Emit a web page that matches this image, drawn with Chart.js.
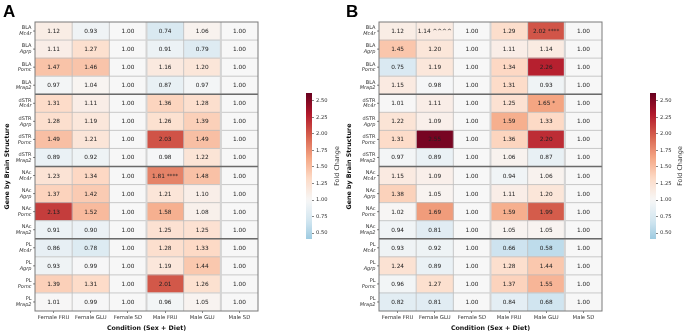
<!DOCTYPE html>
<html>
<head>
<meta charset="utf-8">
<script src="https://cdn.jsdelivr.net/npm/chart.js@4.4.1/dist/chart.umd.min.js"></script>
<style>
  html, body { margin: 0; padding: 0; background: #fff; }
  #wrap { position: relative; width: 685px; height: 333px; }
  canvas { position: absolute; }
</style>
</head>
<body>
<div id="wrap">
  <canvas id="heatA" width="300" height="333" style="left:0;top:0"></canvas>
  <canvas id="barA" width="42" height="160" style="left:300px;top:85px"></canvas>
  <canvas id="heatB" width="300" height="333" style="left:342px;top:0"></canvas>
  <canvas id="barB" width="43" height="160" style="left:642px;top:85px"></canvas>
</div>
<script>
const conditions = ['Female FRU', 'Female GLU', 'Female SD', 'Male FRU', 'Male GLU', 'Male SD'];
const regions = ['BLA', 'dSTR', 'NAc', 'PL'];
const genes = ['Mc4r', 'Agrp', 'Pomc', 'Mrap2'];

// panel A - one array per condition, rows go region by region, gene by gene
const aFemaleFRU = [1.12, 1.11, 1.47, 0.97, 1.31, 1.28, 1.49, 0.89, 1.23, 1.37, 2.13, 0.91, 0.86, 0.93, 1.39, 1.01];
const aFemaleGLU = [0.93, 1.27, 1.46, 1.04, 1.11, 1.19, 1.21, 0.92, 1.34, 1.42, 1.52, 0.90, 0.78, 0.99, 1.31, 0.99];
const aFemaleSD = [1.00, 1.00, 1.00, 1.00, 1.00, 1.00, 1.00, 1.00, 1.00, 1.00, 1.00, 1.00, 1.00, 1.00, 1.00, 1.00];
const aMaleFRU = [0.74, 0.91, 1.16, 0.87, 1.36, 1.26, 2.03, 0.98, 1.81, 1.21, 1.58, 1.25, 1.28, 1.19, 2.01, 0.96];
const aMaleGLU = [1.06, 0.79, 1.20, 0.97, 1.28, 1.39, 1.49, 1.22, 1.48, 1.10, 1.08, 1.25, 1.33, 1.44, 1.26, 1.05];
const aMaleSD = [1.00, 1.00, 1.00, 1.00, 1.00, 1.00, 1.00, 1.00, 1.00, 1.00, 1.00, 1.00, 1.00, 1.00, 1.00, 1.00];
const aMarks = [{ row: 8, col: 3, text: '****' }];

// panel B
const bFemaleFRU = [1.12, 1.45, 0.75, 1.15, 1.01, 1.22, 1.31, 0.97, 1.15, 1.38, 1.02, 0.94, 0.93, 1.24, 0.96, 0.82];
const bFemaleGLU = [1.14, 1.20, 1.19, 0.98, 1.11, 1.09, 2.55, 0.89, 1.09, 1.05, 1.69, 0.81, 0.92, 0.89, 1.27, 0.81];
const bFemaleSD = [1.00, 1.00, 1.00, 1.00, 1.00, 1.00, 1.00, 1.00, 1.00, 1.00, 1.00, 1.00, 1.00, 1.00, 1.00, 1.00];
const bMaleFRU = [1.29, 1.11, 1.34, 1.31, 1.25, 1.59, 1.36, 1.06, 0.94, 1.11, 1.59, 1.05, 0.66, 1.28, 1.37, 0.84];
const bMaleGLU = [2.02, 1.14, 2.26, 0.93, 1.65, 1.33, 2.20, 0.87, 1.06, 1.20, 1.99, 1.05, 0.58, 1.44, 1.55, 0.68];
const bMaleSD = [1.00, 1.00, 1.00, 1.00, 1.00, 1.00, 1.00, 1.00, 1.00, 1.00, 1.00, 1.00, 1.00, 1.00, 1.00, 1.00];
const bMarks = [{ row: 0, col: 1, text: '^^^^' }, { row: 0, col: 4, text: '****' }, { row: 4, col: 4, text: '*' }];

const cbTicks = [0.50, 0.75, 1.00, 1.25, 1.50, 1.75, 2.00, 2.25, 2.50];
const VMIN = 0.41, VMAX = 2.62, CENTER = 1.0;

Chart.defaults.font.family = "'DejaVu Sans', sans-serif";
Chart.defaults.color = '#333';

const rowPairs = regions.flatMap(r => genes.map(g => [r, g]));
const rowLabels = rowPairs.map(p => p.join(' '));

// RdBu_r, recentred on 1 like seaborn's center=
const rdbu = ['#053061', '#2166ac', '#4393c3', '#92c5de', '#d1e5f0', '#f7f7f7',
  '#fddbc7', '#f4a582', '#d6604d', '#b2182b', '#67001f'];
const stops = rdbu.map(h => [1, 3, 5].map(i => parseInt(h.slice(i, i + 2), 16)));
const HALF = Math.max(VMAX - CENTER, CENTER - VMIN);
function cmap(v) {
  let f = (v - (CENTER - HALF)) / (2 * HALF);
  f = Math.min(1, Math.max(0, f));
  const p = f * 10;
  const i = Math.min(9, Math.floor(p));
  const t = p - i;
  const a = stops[i], b = stops[i + 1];
  const c = a.map((x, k) => Math.round(x + (b[k] - x) * t));
  return `rgb(${c[0]},${c[1]},${c[2]})`;
}

function line(ctx, x1, y1, x2, y2) {
  ctx.beginPath();
  ctx.moveTo(x1, y1);
  ctx.lineTo(x2, y2);
  ctx.stroke();
}

function cellPlugin(letter, letterX, cols, marks) {
  return {
    id: 'cells',
    afterDatasetsDraw(chart) {
      const { ctx, chartArea: area } = chart;
      const x = chart.scales.x, y = chart.scales.y;
      const rowEdge = r => (y.getPixelForValue(r - 1) + y.getPixelForValue(r)) / 2;
      ctx.save();
      // cell lines
      ctx.strokeStyle = '#bdbdbd';
      ctx.lineWidth = 0.8;
      for (let c = 1; c < cols.length; c++) {
        const px = x.getPixelForValue(c);
        line(ctx, px, area.top, px, area.bottom);
      }
      for (let r = 1; r < rowPairs.length; r++) {
        line(ctx, area.left, rowEdge(r), area.right, rowEdge(r));
      }
      ctx.strokeStyle = '#d4d4d4';
      ctx.lineWidth = 2;
      [3, 5].forEach(c => {
        const px = x.getPixelForValue(c);
        line(ctx, px, area.top, px, area.bottom);
      });
      // region separators
      ctx.strokeStyle = '#6a6a6a';
      ctx.lineWidth = 1.6;
      for (let r = genes.length; r < rowPairs.length; r += genes.length) {
        line(ctx, area.left, rowEdge(r), area.right, rowEdge(r));
      }
      ctx.strokeStyle = '#7a7a7a';
      ctx.lineWidth = 1;
      ctx.strokeRect(area.left, area.top, area.right - area.left, area.bottom - area.top);

      // values
      ctx.fillStyle = '#222';
      ctx.font = "5.8px 'DejaVu Sans'";
      ctx.textAlign = 'center';
      ctx.textBaseline = 'middle';
      cols.forEach((vals, c) => {
        vals.forEach((v, r) => {
          const m = marks.find(k => k.row === r && k.col === c);
          const txt = v.toFixed(2) + (m ? ' ' + m.text : '');
          ctx.fillText(txt, x.getPixelForValue(c + 0.5), y.getPixelForValue(r) + 0.5);
        });
      });

      // row labels: region over italic gene
      ctx.fillStyle = '#333';
      ctx.strokeStyle = '#333';
      ctx.lineWidth = 0.6;
      ctx.textAlign = 'right';
      rowPairs.forEach(([reg, gene], r) => {
        const py = y.getPixelForValue(r);
        line(ctx, area.left - 2, py, area.left, py);
        ctx.font = "5px 'DejaVu Sans'";
        ctx.fillText(reg, area.left - 3.5, py - 2.9);
        ctx.font = "italic 5px 'DejaVu Sans'";
        ctx.fillText(gene, area.left - 3.5, py + 2.9);
      });

      // panel letter
      ctx.fillStyle = '#000';
      ctx.textAlign = 'left';
      ctx.textBaseline = 'alphabetic';
      ctx.font = "bold 17px 'Liberation Sans'";
      ctx.fillText(letter, letterX, 17);
      ctx.restore();
    }
  };
}

function heatmap(id, letter, letterX, leftW, rightPad, cols, marks) {
  const datasets = cols.map((vals, c) => ({
    data: vals.map(() => [c, c + 1]),
    backgroundColor: vals.map(cmap),
    borderWidth: 0,
    barPercentage: 1,
    categoryPercentage: 1,
    grouped: false,
  }));
  return new Chart(document.getElementById(id), {
    type: 'bar',
    data: { labels: rowLabels, datasets: datasets },
    options: {
      indexAxis: 'y',
      responsive: false,
      animation: false,
      layout: { padding: { top: 22, right: rightPad, left: 0, bottom: 0 } },
      plugins: { legend: { display: false }, tooltip: { enabled: false } },
      scales: {
        x: {
          type: 'linear', min: 0, max: 6,
          afterBuildTicks: a => { a.ticks = conditions.map((_, i) => ({ value: i + 0.5 })); },
          afterFit: a => { a.height = 22; },
          ticks: {
            callback: v => conditions[Math.floor(v)],
            autoSkip: false, maxRotation: 0, padding: 1,
            font: { size: 5.3 }, color: '#333',
          },
          grid: { drawOnChartArea: false, tickLength: 2, color: '#333', lineWidth: 0.6 },
          border: { display: false },
          title: {
            display: true, text: 'Condition (Sex + Diet)',
            font: { size: 6.3, weight: 'bold' }, color: '#111',
            padding: { top: 0, bottom: 1 },
          },
        },
        y: {
          afterFit: a => { a.width = leftW; },
          ticks: { display: false },
          grid: { display: false },
          border: { display: false },
          title: {
            display: true, text: 'Gene by Brain Structure',
            font: { size: 6.3, weight: 'bold' }, color: '#111',
            padding: { top: 4, bottom: 0 },
          },
        },
      },
    },
    plugins: [cellPlugin(letter, letterX, cols, marks)],
  });
}

function colorbar(id, padLeft, axisW, labelOffset) {
  const foldLabel = {
    id: 'foldLabel',
    afterDraw(chart) {
      const { ctx, chartArea: area } = chart;
      ctx.save();
      ctx.translate(area.right + labelOffset, (area.top + area.bottom) / 2);
      ctx.rotate(-Math.PI / 2);
      ctx.fillStyle = '#333';
      ctx.font = "6.4px 'DejaVu Sans'";
      ctx.textAlign = 'center';
      ctx.textBaseline = 'middle';
      ctx.fillText('Fold Change', 0, 0);
      ctx.restore();
    }
  };
  return new Chart(document.getElementById(id), {
    type: 'bar',
    data: {
      labels: [''],
      datasets: [{
        data: [[VMIN, VMAX]],
        backgroundColor: (context) => {
          const chart = context.chart;
          if (!chart.chartArea) return '#ccc';
          const ys = chart.scales.y;
          const g = chart.ctx.createLinearGradient(0, ys.getPixelForValue(VMIN), 0, ys.getPixelForValue(VMAX));
          for (let i = 0; i <= 40; i++) {
            g.addColorStop(i / 40, cmap(VMIN + (VMAX - VMIN) * i / 40));
          }
          return g;
        },
        borderWidth: 0,
        barPercentage: 1,
        categoryPercentage: 1,
      }],
    },
    options: {
      responsive: false,
      animation: false,
      layout: { padding: { top: 8, bottom: 6, left: padLeft, right: 0 } },
      plugins: { legend: { display: false }, tooltip: { enabled: false } },
      scales: {
        x: { display: false },
        y: {
          position: 'right', min: VMIN, max: VMAX,
          afterBuildTicks: a => { a.ticks = cbTicks.map(v => ({ value: v })); },
          afterFit: a => { a.width = axisW; },
          ticks: { callback: v => v.toFixed(2), font: { size: 5.2 }, color: '#333', padding: 2 },
          grid: { drawOnChartArea: false, tickLength: 2, color: '#333', lineWidth: 0.6 },
          border: { display: false },
        },
      },
    },
    plugins: [foldLabel],
  });
}

heatmap('heatA', 'A', 3, 35, 42,
  [aFemaleFRU, aFemaleGLU, aFemaleSD, aMaleFRU, aMaleGLU, aMaleSD], aMarks);
heatmap('heatB', 'B', 4, 37, 40,
  [bFemaleFRU, bFemaleGLU, bFemaleSD, bMaleFRU, bMaleGLU, bMaleSD], bMarks);
colorbar('barA', 6, 30, 25);
colorbar('barB', 8, 29, 24);
</script>
</body>
</html>
